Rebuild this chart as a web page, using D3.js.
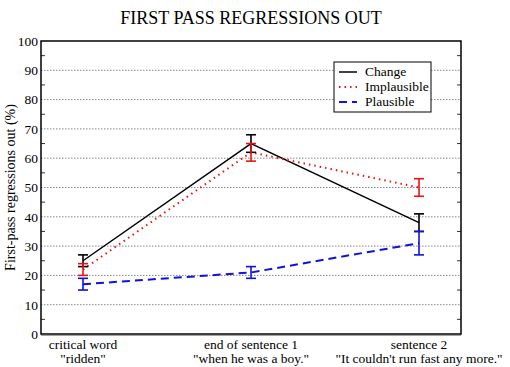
<!DOCTYPE html>
<html>
<head>
<meta charset="utf-8">
<script src="https://cdn.jsdelivr.net/npm/d3@7"></script>
<style>
body { margin: 0; background: #fff; }
svg text { font-family: "Liberation Serif", "Times New Roman", serif !important; fill: #000; }
</style>
</head>
<body>
<div id="chart"></div>
<script>
const categories = [["critical word", "\"ridden\""], ["end of sentence 1", "\"when he was a boy.\""], ["sentence 2", "\"It couldn't run fast any more.\""]];
const seriesNames = ["Change", "Implausible", "Plausible"];
const changeVals = [25, 65, 38];
const changeErr = [2, 3, 3];
const implVals = [22, 62, 50];
const implErr = [2, 3, 3];
const plausVals = [17, 21, 31];
const plausErr = [2, 2, 4];
const yTicks = [0, 10, 20, 30, 40, 50, 60, 70, 80, 90, 100];
const gridTicks = [10, 20, 30, 40, 50, 60, 70, 80, 90];
const minorTicks = [5, 15, 25, 35, 45, 55, 65, 75, 85, 95];

const series = [
  { name: seriesNames[0], vals: changeVals, err: changeErr, color: "#000000", dash: null, width: 1.5 },
  { name: seriesNames[1], vals: implVals, err: implErr, color: "#ee1111", dash: "1.5,4", width: 2 },
  { name: seriesNames[2], vals: plausVals, err: plausErr, color: "#1111dd", dash: "8,5", width: 2 }
];

const W = 510, H = 367;
const mLeft = 41, mRight = 461, mTop = 41, mBottom = 334;
const serif = "'Liberation Serif', 'Times New Roman', serif";

const svg = d3.select("#chart").append("svg").attr("width", W).attr("height", H)
    .attr("font-family", serif);

const x = d3.scaleLinear().domain([-0.25, 2.25]).range([mLeft, mRight]);
const y = d3.scaleLinear().domain([0, 100]).range([mBottom, mTop]);

// title
svg.append("text")
    .attr("x", 251)
    .attr("y", 24)
    .attr("text-anchor", "middle")
    .attr("font-size", 18)
    .text("FIRST PASS REGRESSIONS OUT");

// gridlines
svg.append("g").selectAll("line").data(gridTicks).join("line")
    .attr("x1", mLeft)
    .attr("x2", mRight)
    .attr("y1", d => y(d))
    .attr("y2", d => y(d))
    .attr("stroke", "#888")
    .attr("stroke-width", 1)
    .attr("stroke-dasharray", "1.5,1.5");

// minor ticks on both sides
svg.append("g").selectAll("line").data(minorTicks).join("line")
    .attr("x1", mLeft)
    .attr("x2", mLeft + 4)
    .attr("y1", d => y(d))
    .attr("y2", d => y(d))
    .attr("stroke", "#333");
svg.append("g").selectAll("line").data(minorTicks).join("line")
    .attr("x1", mRight - 4)
    .attr("x2", mRight)
    .attr("y1", d => y(d))
    .attr("y2", d => y(d))
    .attr("stroke", "#333");

// y axis labels
const yAxis = d3.axisLeft(y).tickValues(yTicks).tickSize(0).tickPadding(3);
const gy = svg.append("g").attr("transform", `translate(${mLeft},0)`).call(yAxis)
    .attr("font-family", serif)
    .attr("font-size", 13.5);
gy.select(".domain").remove();

// frame
svg.append("rect")
    .attr("x", mLeft)
    .attr("y", mTop)
    .attr("width", mRight - mLeft)
    .attr("height", mBottom - mTop)
    .attr("fill", "none")
    .attr("stroke", "#000")
    .attr("stroke-width", 1.5);
svg.append("line")
    .attr("x1", mLeft)
    .attr("x2", mRight)
    .attr("y1", mBottom + 1)
    .attr("y2", mBottom + 1)
    .attr("stroke", "#444")
    .attr("stroke-width", 1);

// y title
svg.append("text")
    .attr("transform", `translate(15,${(mTop + mBottom) / 2}) rotate(-90)`)
    .attr("text-anchor", "middle")
    .attr("font-size", 14)
    .text("First-pass regressions out (%)");

// x labels
const xl = svg.append("g").selectAll("text").data(categories).join("text")
    .attr("x", (d, i) => x(i))
    .attr("y", 349)
    .attr("text-anchor", "middle")
    .attr("font-size", 13.5);
xl.append("tspan").attr("x", (d, i) => x(i)).text(d => d[0]);
xl.append("tspan").attr("x", (d, i) => x(i)).attr("dy", 13.5).text(d => d[1]);

// lines
const line = d3.line().x((d, i) => x(i)).y(d => y(d));
series.forEach(s => {
  svg.append("path")
      .datum(s.vals)
      .attr("d", line)
      .attr("fill", "none")
      .attr("stroke", s.color)
      .attr("stroke-width", s.width)
      .attr("stroke-dasharray", s.dash);
});

// error bars
series.forEach(s => {
  const g = svg.append("g").attr("stroke", s.color).attr("stroke-width", 1.6);
  s.vals.forEach((v, i) => {
    const cx = x(i);
    g.append("line").attr("x1", cx).attr("x2", cx)
        .attr("y1", y(v - s.err[i])).attr("y2", y(v + s.err[i]));
    g.append("line").attr("x1", cx - 5).attr("x2", cx + 5)
        .attr("y1", y(v - s.err[i])).attr("y2", y(v - s.err[i]));
    g.append("line").attr("x1", cx - 5).attr("x2", cx + 5)
        .attr("y1", y(v + s.err[i])).attr("y2", y(v + s.err[i]));
  });
});

// legend
const lg = svg.append("g");
lg.append("rect")
    .attr("x", 334)
    .attr("y", 62)
    .attr("width", 97)
    .attr("height", 50)
    .attr("fill", "#fff")
    .attr("stroke", "#000")
    .attr("stroke-width", 1);
series.forEach((s, i) => {
  const ly = 72 + i * 15;
  lg.append("line")
      .attr("x1", 339)
      .attr("x2", 357)
      .attr("y1", ly)
      .attr("y2", ly)
      .attr("stroke", s.color)
      .attr("stroke-width", s.width)
      .attr("stroke-dasharray", s.dash);
  lg.append("text")
      .attr("x", 365)
      .attr("y", ly + 4)
      .attr("font-size", 13.5)
      .text(s.name);
});
</script>
</body>
</html>
